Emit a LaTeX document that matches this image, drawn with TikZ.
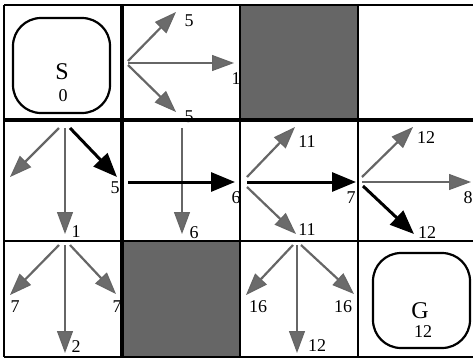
\documentclass[tikz,border=0pt]{standalone}
\usepackage{fontspec}
\setmainfont{Liberation Serif}
\usetikzlibrary{arrows.meta}
\begin{document}
\begin{tikzpicture}[x=1pt,y=-1pt,
  grayarrow/.style={draw=black!60, line width=2.2pt,
     -{Triangle[length=22pt,width=16pt,fill=black!58,line width=1.2pt]}},
  blackarrow/.style={draw=black, line width=3pt, -{Triangle[length=24pt,width=19pt]}},
  num/.style={inner sep=0pt, font=\fontsize{18}{18}\selectfont},
  big/.style={inner sep=0pt, font=\fontsize{24}{24}\selectfont},
  gridline/.style={line width=2.2pt},
  thickgrid/.style={line width=3.8pt},
  shade/.style={fill=black!60},
  goalbox/.style={draw, line width=2.2pt, rounded corners=28pt}]
\useasboundingbox (0,0) rectangle (473,357);
\clip (0,0) rectangle (473,357);
% shaded cells
\fill[shade] (240,5) rectangle (358,120);
\fill[shade] (122,241) rectangle (240,357);
% start and goal
\draw[goalbox] (13,18) rectangle (110,113);
\node[big] (S) at (62,72) {S};
\node[num] (S0) at (63,96) {0};
\draw[goalbox] (373,253) rectangle (470,348);
\node[big] (G) at (420,311) {G};
\node[num] (G12) at (423,332) {12};
% cell (2,1)
\coordinate (a1s) at (128,61); \coordinate (a1e) at (176,12);
\coordinate (a2s) at (128,63); \coordinate (a2e) at (234,63);
\coordinate (a3s) at (128,65); \coordinate (a3e) at (176,112);
\draw[grayarrow] (a1s) -- (a1e);
\draw[grayarrow] (a2s) -- (a2e);
\draw[grayarrow] (a3s) -- (a3e);
\node[num] (la1) at (189,21) {5};
\node[num] (la2) at (236,79) {1};
\node[num] (la3) at (189,117) {5};
% cell (1,2)
\coordinate (b1s) at (59,128); \coordinate (b1e) at (10,177);
\coordinate (b2s) at (65,128); \coordinate (b2e) at (65,234);
\coordinate (b3s) at (70,128); \coordinate (b3e) at (117,177);
\draw[grayarrow] (b1s) -- (b1e);
\draw[grayarrow] (b2s) -- (b2e);
\draw[blackarrow] (b3s) -- (b3e);
\node[num] (lb2) at (76,232) {1};
\node[num] (lb3) at (115,188) {5};
% cell (2,2)
\coordinate (c1s) at (182,128); \coordinate (c1e) at (182,234);
\coordinate (c2s) at (128,182); \coordinate (c2e) at (235,182);
\draw[grayarrow] (c1s) -- (c1e);
\draw[blackarrow] (c2s) -- (c2e);
\node[num] (lc1) at (194,233) {6};
\node[num] (lc2) at (236,198) {6};
% cell (3,2)
\coordinate (d1s) at (247,177); \coordinate (d1e) at (295,127);
\coordinate (d2s) at (247,182); \coordinate (d2e) at (356,182);
\coordinate (d3s) at (247,187); \coordinate (d3e) at (296,234);
\draw[grayarrow] (d1s) -- (d1e);
\draw[blackarrow] (d2s) -- (d2e);
\draw[grayarrow] (d3s) -- (d3e);
\node[num] (ld1) at (307,142) {11};
\node[num] (ld2) at (351,198) {7};
\node[num] (ld3) at (307,230) {11};
% cell (4,2)
\coordinate (e1s) at (362,177); \coordinate (e1e) at (413,127);
\coordinate (e2s) at (362,182); \coordinate (e2e) at (471,182);
\coordinate (e3s) at (363,186); \coordinate (e3e) at (414,234);
\draw[grayarrow] (e1s) -- (e1e);
\draw[grayarrow] (e2s) -- (e2e);
\draw[blackarrow] (e3s) -- (e3e);
\node[num] (le1) at (426,138) {12};
\node[num] (le2) at (468,198) {8};
\node[num] (le3) at (427,233) {12};
% cell (1,3)
\coordinate (f1s) at (59,245); \coordinate (f1e) at (10,295);
\coordinate (f2s) at (65,245); \coordinate (f2e) at (65,353);
\coordinate (f3s) at (70,245); \coordinate (f3e) at (116,294);
\draw[grayarrow] (f1s) -- (f1e);
\draw[grayarrow] (f2s) -- (f2e);
\draw[grayarrow] (f3s) -- (f3e);
\node[num] (lf1) at (15,307) {7};
\node[num] (lf2) at (76,347) {2};
\node[num] (lf3) at (117,307) {7};
% cell (3,3)
\coordinate (g1s) at (293,245); \coordinate (g1e) at (246,295);
\coordinate (g2s) at (297,245); \coordinate (g2e) at (297,353);
\coordinate (g3s) at (301,245); \coordinate (g3e) at (354,294);
\draw[grayarrow] (g1s) -- (g1e);
\draw[grayarrow] (g2s) -- (g2e);
\draw[grayarrow] (g3s) -- (g3e);
\node[num] (lg1) at (258,307) {16};
\node[num] (lg2) at (317,346) {12};
\node[num] (lg3) at (343,307) {16};
% grid
\draw[gridline] (4,5) -- (473,5);
\draw[gridline] (4,241) -- (473,241);
\draw[gridline] (4,357) -- (473,357);
\draw[thickgrid] (4,120) -- (473,120);
\draw[gridline] (4,5) -- (4,357);
\draw[thickgrid] (122,5) -- (122,357);
\draw[gridline] (240,5) -- (240,357);
\draw[gridline] (358,5) -- (358,357);
\end{tikzpicture}
\end{document}
